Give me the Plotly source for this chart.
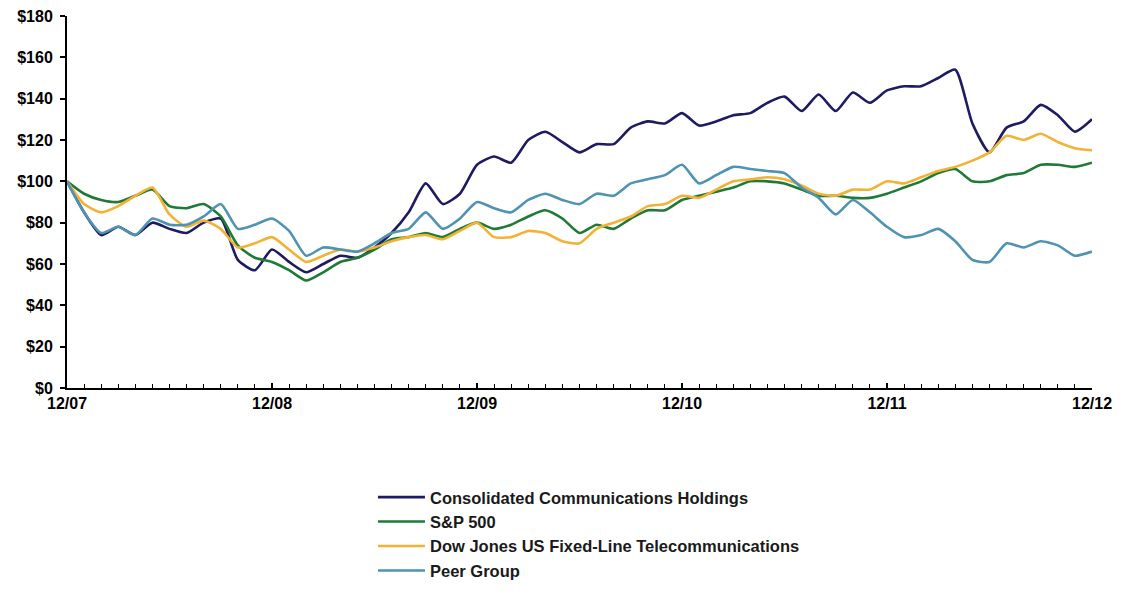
import plotly.graph_objects as go

months = list(range(61))
tick_positions = [0, 12, 24, 36, 48, 60]
tick_labels = ["12/07", "12/08", "12/09", "12/10", "12/11", "12/12"]

cnsl = [100, 85, 74, 78, 74, 80, 77, 75, 80, 82,
        62, 57, 67, 61, 56, 60, 64, 63, 68, 75,
        85, 99, 89, 94, 108, 112, 109, 120, 124, 119,
        114, 118, 118, 126, 129, 128, 133, 127, 129, 132,
        133, 138, 141, 134, 142, 134, 143, 138, 144, 146,
        146, 150, 154, 128, 114, 126, 129, 137, 132, 124,
        130]
sp500 = [100, 94, 91, 90, 93, 96, 88, 87, 89, 83,
         69, 63, 61, 57, 52, 56, 61, 63, 67, 72,
         73, 75, 73, 77, 80, 77, 79, 83, 86, 82,
         75, 79, 77, 82, 86, 86, 91, 93, 95, 97,
         100, 100, 99, 96, 93, 93, 92, 92, 94, 97,
         100, 104, 106, 100, 100, 103, 104, 108, 108, 107,
         109]
dowjones = [100, 89, 85, 88, 93, 97, 84, 78, 81, 77,
            68, 70, 73, 67, 61, 64, 67, 66, 68, 71,
            73, 74, 72, 76, 80, 73, 73, 76, 75, 71,
            70, 77, 80, 83, 88, 89, 93, 92, 96, 100,
            101, 102, 101, 98, 94, 93, 96, 96, 100, 99,
            102, 105, 107, 110, 114, 122, 120, 123, 119, 116,
            115]
peer = [100, 85, 75, 78, 74, 82, 79, 79, 83, 89,
        77, 79, 82, 76, 64, 68, 67, 66, 70, 75,
        77, 85, 77, 82, 90, 87, 85, 91, 94, 91,
        89, 94, 93, 99, 101, 103, 108, 99, 103, 107,
        106, 105, 104, 97, 92, 84, 91, 85, 78, 73,
        74, 77, 71, 62, 61, 70, 68, 71, 69, 64,
        66]

series = [
    ("Consolidated Communications Holdings", cnsl, "#1e1b63"),
    ("S&P 500", sp500, "#1f7a36"),
    ("Dow Jones US Fixed-Line Telecommunications", dowjones, "#f2b234"),
    ("Peer Group", peer, "#4f93b3"),
]

fig = go.Figure()
for i, (name, vals, col) in enumerate(series):
    fig.add_trace(go.Scatter(
        x=months, y=vals, name=name, mode="lines",
        line=dict(color=col, width=2.6, shape="spline", smoothing=0.6),
        legendgroup=f"g{i}",
    ))

font_family = "Liberation Sans, Arial, sans-serif"

# page body has an 8px margin, so the figure is sized to fit the window
fig.update_layout(
    width=1115, height=594,
    margin=dict(l=59, r=31, t=8, b=214, autoexpand=False),
    plot_bgcolor="white", paper_bgcolor="white",
    showlegend=True,
    legend=dict(
        orientation="v", x=0.2985, xanchor="left", y=-0.247, yanchor="top",
        font=dict(family=font_family, size=16.5, color="#1a1a1a", weight="bold"),
        tracegroupgap=0, itemwidth=47,
        bgcolor="rgba(0,0,0,0)",
    ),
    xaxis=dict(
        range=[0, 60], tickmode="array", tickvals=tick_positions, ticktext=tick_labels,
        showline=True, linecolor="black", linewidth=2,
        ticks="inside", ticklen=5, tickwidth=1.5, tickcolor="black",
        minor=dict(tickmode="linear", tick0=0, dtick=1, ticks="inside",
                   ticklen=4, tickwidth=1, tickcolor="black"),
        showgrid=False, zeroline=False, ticklabeloverflow="allow",
        tickfont=dict(family=font_family, size=16, color="black", weight="bold"),
    ),
    yaxis=dict(
        range=[0, 180], dtick=20, tickprefix="$",
        showline=True, linecolor="black", linewidth=2,
        ticks="outside", ticklen=5, tickwidth=1.5, tickcolor="black",
        ticklabelstandoff=4, ticklabeloverflow="allow",
        showgrid=False, zeroline=False,
        tickfont=dict(family=font_family, size=16, color="black", weight="bold"),
    ),
    hovermode=False,
)

fig.write_html("out.html")
